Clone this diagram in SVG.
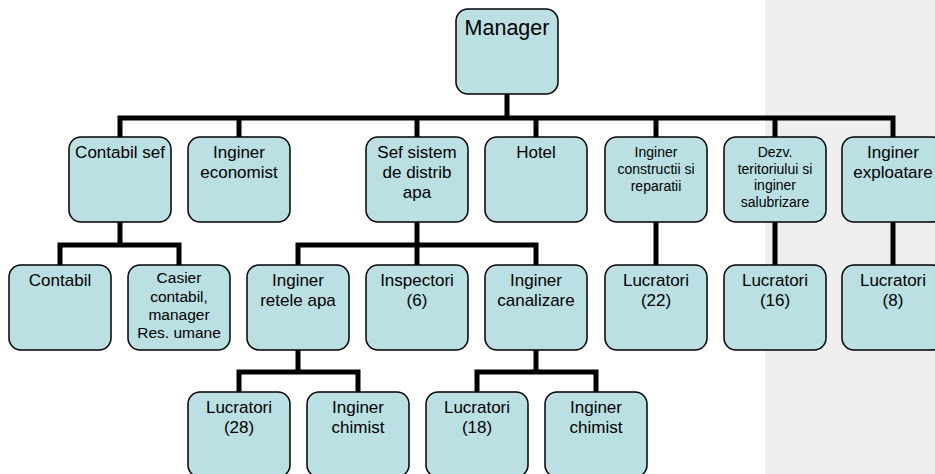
<svg xmlns="http://www.w3.org/2000/svg" width="935" height="474" viewBox="0 0 935 474">
  <style>
    .box { fill: #bae0e3; stroke: #000; stroke-width: 1.5; }
    .t { font-family: "Liberation Sans", Arial, sans-serif; fill: #000; text-anchor: middle; }
    .lg { font-size: 17px; }
    .md { font-size: 15.5px; }
    .sm { font-size: 14px; }
    .wire { fill: none; stroke: #000; stroke-width: 5; stroke-linejoin: miter; stroke-linecap: butt; }
  </style>

  <!-- side panel -->
  <rect x="765" y="0" width="170" height="474" fill="#efefef"/>

  <g id="connectors">
    <path class="wire" d="M507 94 V118"/>
    <path class="wire" d="M120 137 V118 H893 V137"/>
    <path class="wire" d="M239 118 V137 M417 118 V137 M536 118 V137 M656 118 V137 M775 118 V137"/>
    <path class="wire" d="M120 222 V245"/>
    <path class="wire" d="M60 265 V245 H179 V265"/>
    <path class="wire" d="M417 222 V265"/>
    <path class="wire" d="M298 265 V245 H536 V265"/>
    <path class="wire" d="M656 222 V265 M775 222 V265 M893 222 V265"/>
    <path class="wire" d="M298 350 V372"/>
    <path class="wire" d="M239 392 V372 H358 V392"/>
    <path class="wire" d="M536 350 V372"/>
    <path class="wire" d="M477 392 V372 H596 V392"/>
  </g>

  <g id="manager">
    <rect class="box" x="456" y="9" width="102" height="85" rx="12"/>
    <text class="t" x="507" y="35" font-size="21.5">Manager</text>
  </g>

  <g id="contabil-sef">
    <rect class="box" x="69" y="137" width="102" height="85" rx="12"/>
    <text class="t lg" x="120" y="158">Contabil sef</text>
  </g>
  <g id="inginer-economist">
    <rect class="box" x="188" y="137" width="102" height="85" rx="12"/>
    <text class="t lg" x="239" y="158">Inginer</text>
    <text class="t lg" x="239" y="178">economist</text>
  </g>
  <g id="sef-sistem">
    <rect class="box" x="366" y="137" width="102" height="85" rx="12"/>
    <text class="t lg" x="417" y="158">Sef sistem</text>
    <text class="t lg" x="417" y="178">de distrib</text>
    <text class="t lg" x="417" y="198">apa</text>
  </g>
  <g id="hotel">
    <rect class="box" x="485" y="137" width="102" height="85" rx="12"/>
    <text class="t lg" x="536" y="158">Hotel</text>
  </g>
  <g id="inginer-constructii">
    <rect class="box" x="605" y="137" width="102" height="85" rx="12"/>
    <text class="t sm" x="656" y="157">Inginer</text>
    <text class="t sm" x="656" y="174">constructii si</text>
    <text class="t sm" x="656" y="191">reparatii</text>
  </g>
  <g id="dezvoltare">
    <rect class="box" x="724" y="137" width="102" height="85" rx="12"/>
    <text class="t sm" x="775" y="157">Dezv.</text>
    <text class="t sm" x="775" y="173.7">teritoriului si</text>
    <text class="t sm" x="775" y="190.3">inginer</text>
    <text class="t sm" x="775" y="207">salubrizare</text>
  </g>
  <g id="inginer-exploatare">
    <rect class="box" x="842" y="137" width="102" height="85" rx="12"/>
    <text class="t lg" x="893" y="158">Inginer</text>
    <text class="t lg" x="893" y="178">exploatare</text>
  </g>

  <g id="contabil">
    <rect class="box" x="9" y="265" width="102" height="85" rx="12"/>
    <text class="t lg" x="60" y="286">Contabil</text>
  </g>
  <g id="casier">
    <rect class="box" x="128" y="265" width="102" height="85" rx="12"/>
    <text class="t md" x="179" y="283">Casier</text>
    <text class="t md" x="179" y="301.5">contabil,</text>
    <text class="t md" x="179" y="320">manager</text>
    <text class="t md" x="179" y="338">Res. umane</text>
  </g>
  <g id="inginer-retele">
    <rect class="box" x="247" y="265" width="102" height="85" rx="12"/>
    <text class="t lg" x="298" y="286">Inginer</text>
    <text class="t lg" x="298" y="306">retele apa</text>
  </g>
  <g id="inspectori">
    <rect class="box" x="366" y="265" width="102" height="85" rx="12"/>
    <text class="t lg" x="417" y="286">Inspectori</text>
    <text class="t lg" x="417" y="306">(6)</text>
  </g>
  <g id="inginer-canalizare">
    <rect class="box" x="485" y="265" width="102" height="85" rx="12"/>
    <text class="t lg" x="536" y="286">Inginer</text>
    <text class="t lg" x="536" y="306">canalizare</text>
  </g>
  <g id="lucratori-22">
    <rect class="box" x="605" y="265" width="102" height="85" rx="12"/>
    <text class="t lg" x="656" y="286">Lucratori</text>
    <text class="t lg" x="656" y="306">(22)</text>
  </g>
  <g id="lucratori-16">
    <rect class="box" x="724" y="265" width="102" height="85" rx="12"/>
    <text class="t lg" x="775" y="286">Lucratori</text>
    <text class="t lg" x="775" y="306">(16)</text>
  </g>
  <g id="lucratori-8">
    <rect class="box" x="842" y="265" width="102" height="85" rx="12"/>
    <text class="t lg" x="893" y="286">Lucratori</text>
    <text class="t lg" x="893" y="306">(8)</text>
  </g>

  <g id="lucratori-28">
    <rect class="box" x="188" y="392" width="102" height="85" rx="12"/>
    <text class="t lg" x="239" y="413">Lucratori</text>
    <text class="t lg" x="239" y="433">(28)</text>
  </g>
  <g id="inginer-chimist-1">
    <rect class="box" x="307" y="392" width="102" height="85" rx="12"/>
    <text class="t lg" x="358" y="413">Inginer</text>
    <text class="t lg" x="358" y="433">chimist</text>
  </g>
  <g id="lucratori-18">
    <rect class="box" x="426" y="392" width="102" height="85" rx="12"/>
    <text class="t lg" x="477" y="413">Lucratori</text>
    <text class="t lg" x="477" y="433">(18)</text>
  </g>
  <g id="inginer-chimist-2">
    <rect class="box" x="545" y="392" width="102" height="85" rx="12"/>
    <text class="t lg" x="596" y="413">Inginer</text>
    <text class="t lg" x="596" y="433">chimist</text>
  </g>
</svg>
